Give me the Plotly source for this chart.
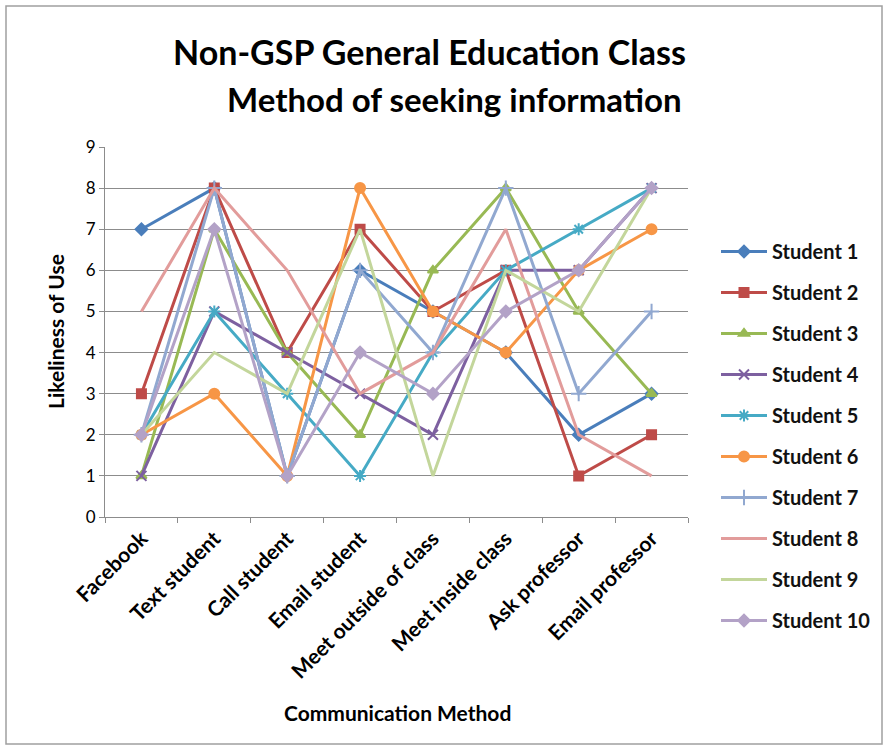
import plotly.graph_objects as go

categories = ["Facebook", "Text student", "Call student", "Email student",
              "Meet outside of class", "Meet inside class", "Ask professor", "Email professor"]

student_1 = [7, 8, 1, 6, 5, 4, 2, 3]
student_2 = [3, 8, 4, 7, 5, 6, 1, 2]
student_3 = [1, 7, 4, 2, 6, 8, 5, 3]
student_4 = [1, 5, 4, 3, 2, 6, 6, 8]
student_5 = [2, 5, 3, 1, 4, 6, 7, 8]
student_6 = [2, 3, 1, 8, 5, 4, 6, 7]
student_7 = [2, 8, 1, 6, 4, 8, 3, 5]
student_8 = [5, 8, 6, 3, 4, 7, 2, 1]
student_9 = [2, 4, 3, 7, 1, 6, 5, 8]
student_10 = [2, 7, 1, 4, 3, 5, 6, 8]

names = [f"Student {i}" for i in range(1, 11)]
series = [student_1, student_2, student_3, student_4, student_5,
          student_6, student_7, student_8, student_9, student_10]
colors = ["#4A7EBB", "#BE4B48", "#98B954", "#7D60A0", "#46AAC5",
          "#F79646", "#91A8D0", "#E29C9B", "#C3D69B", "#B3A2C7"]
symbols = ["diamond", "square", "triangle-up", "x-thin-open", "asterisk-open",
           "circle", "cross-thin-open", None, None, "diamond"]
sizes = [9, 9, 9, 10, 10, 10, 11, 0, 0, 9]

fig = go.Figure()
for i, (n, vals) in enumerate(zip(names, series)):
    sym = symbols[i]
    mode = "lines+markers" if sym else "lines"
    marker = dict(symbol=sym, size=sizes[i], color=colors[i],
                  line=dict(color=colors[i], width=2)) if sym else None
    fig.add_trace(go.Scatter(
        x=categories, y=vals, name=n, mode=mode,
        line=dict(color=colors[i], width=3),
        marker=marker, legendgroup=n,
    ))

L, R, T, B = 105, 200, 147, 233
W, H = 888, 750
pw, ph = W - L - R, H - T - B

def px_x(p):
    return (p - L) / pw

def px_y(p):
    return (H - B - p) / ph

FONT = "Lato, Open Sans, sans-serif"

fig.update_layout(
    width=W, height=H,
    margin=dict(l=L, r=R, t=T, b=B),
    paper_bgcolor="white", plot_bgcolor="white",
    font=dict(family=FONT, color="#000000"),
    showlegend=True,
    legend=dict(x=px_x(716), y=px_y(232), xanchor="left", yanchor="top",
                font=dict(size=20, family=FONT, color="#111", weight="bold"),
                tracegroupgap=12, itemwidth=46, bgcolor="rgba(0,0,0,0)",
                maxheight=720),
    xaxis=dict(
        type="category", tickangle=-45, showgrid=False,
        showline=True, linecolor="#8C8C8C", linewidth=1,
        ticks="outside", ticklen=5, tickcolor="#8C8C8C", tickson="boundaries",
        tickfont=dict(size=21, family=FONT, color="#000", weight="bold"),
        range=[-0.5, 7.5],
    ),
    yaxis=dict(
        range=[0, 9], dtick=1, showgrid=True, gridcolor="#8C8C8C", gridwidth=1,
        showline=True, linecolor="#8C8C8C", linewidth=1,
        ticks="outside", ticklen=5, tickcolor="#8C8C8C",
        tickfont=dict(size=17, family=FONT, color="#000"),
        zeroline=False,
    ),
    annotations=[
        dict(text="<b>Non-GSP General Education Class</b>", xref="paper", yref="paper",
             x=px_x(430), y=px_y(52), xanchor="center", yanchor="middle", showarrow=False,
             font=dict(size=34, family=FONT, color="#000")),
        dict(text="<b>Method of seeking information</b>", xref="paper", yref="paper",
             x=px_x(454), y=px_y(99), xanchor="center", yanchor="middle", showarrow=False,
             font=dict(size=33, family=FONT, color="#000")),
        dict(text="<b>Likeliness of Use</b>", xref="paper", yref="paper",
             x=px_x(55), y=px_y(332), xanchor="center", yanchor="middle", showarrow=False,
             textangle=-90, font=dict(size=21, family=FONT, color="#000")),
        dict(text="<b>Communication Method</b>", xref="paper", yref="paper",
             x=px_x(397), y=px_y(712), xanchor="center", yanchor="middle", showarrow=False,
             font=dict(size=21, family=FONT, color="#000")),
    ],
    shapes=[
        dict(type="rect", xref="paper", yref="paper",
             x0=px_x(6), x1=px_x(882), y0=px_y(744), y1=px_y(6),
             line=dict(color="#A0A0A0", width=1.5), fillcolor="rgba(0,0,0,0)", layer="below"),
    ],
)

fig.write_html("out.html")
